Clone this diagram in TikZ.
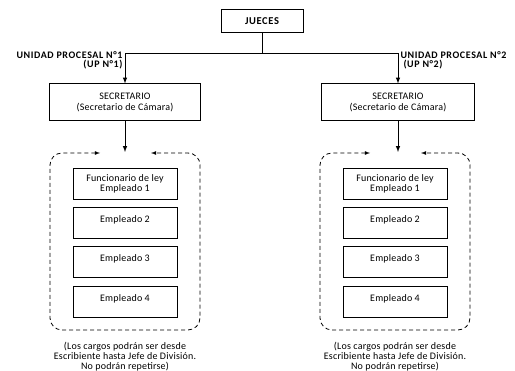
\documentclass[tikz,border=0pt]{standalone}
\usepackage{fontspec}
\setmainfont{Carlito}[LetterSpace=2]
\newfontfamily\negrita{Carlito}[LetterSpace=6]
\usetikzlibrary{arrows}
\begin{document}
\begin{tikzpicture}[x=1pt,y=-1pt,>=latex,line width=1pt,
    box/.style={draw,fill=white,align=center,inner sep=2pt,font=\fontsize{10}{10.5}\selectfont},
    emp/.style={box,minimum width=104pt,minimum height=31pt},
    grupo/.style={dash pattern=on 4pt off 3pt,rounded corners=12pt,line width=0.8pt},
    nota/.style={align=center,font=\fontsize{10}{9.7}\selectfont},
    unidad/.style={font=\negrita\bfseries\fontsize{10}{9.5}\selectfont}]
  \useasboundingbox (0,0) rectangle (515,371);
  \node[box,font=\negrita\bfseries\fontsize{10.5}{11}\selectfont,minimum width=82pt,minimum height=23pt] (jueces) at (262,21.5) {JUECES};
  \coordinate (bar) at (262,54);
  \node[box,minimum width=151pt,minimum height=37pt] (sec1) at (125,102.5) {SECRETARIO\\(Secretario de Cámara)};
  \node[box,minimum width=153pt,minimum height=37pt] (sec2) at (398,102.5) {SECRETARIO\\(Secretario de Cámara)};
  \node[unidad,align=right,anchor=south east,inner sep=0pt] (up1) at (123,70) {UNIDAD PROCESAL N°1\\(UP N°1)};
  \node[unidad,align=left,anchor=south west,inner sep=0pt] (up2) at (400,70) {UNIDAD PROCESAL N°2\\\hspace{3pt}(UP N°2)};
  \draw (jueces.south) -- (bar);
  \draw[->] (bar) -| (sec1.north);
  \draw[->] (bar) -| (sec2.north);
  % los dos grupos de empleados
  \foreach \u/\cx in {1/125,2/395}{
    \coordinate (top\u) at (\cx,152);
    \draw[->] (sec\u.south) -- (sec\u.south |- top\u);
    \draw[grupo,<->] (\cx-25,153) -- (\cx-75,153) -- (\cx-75,330)
      -- (\cx+75,330) -- (\cx+75,153) -- (\cx+26,153);
    \node[emp] (e1\u) at (\cx,184) {Funcionario de ley\\Empleado 1};
    \node[emp,text depth=9pt] (e2\u) at (\cx,223.5) {Empleado 2};
    \node[emp,text depth=9pt] (e3\u) at (\cx,262.5) {Empleado 3};
    \node[emp,text depth=9pt] (e4\u) at (\cx,302.5) {Empleado 4};
    \node[nota] (nota\u) at (\cx,356.5) {(Los cargos podrán ser desde\\Escribiente hasta Jefe de División.\\No podrán repetirse)};
  }
\end{tikzpicture}
\end{document}
